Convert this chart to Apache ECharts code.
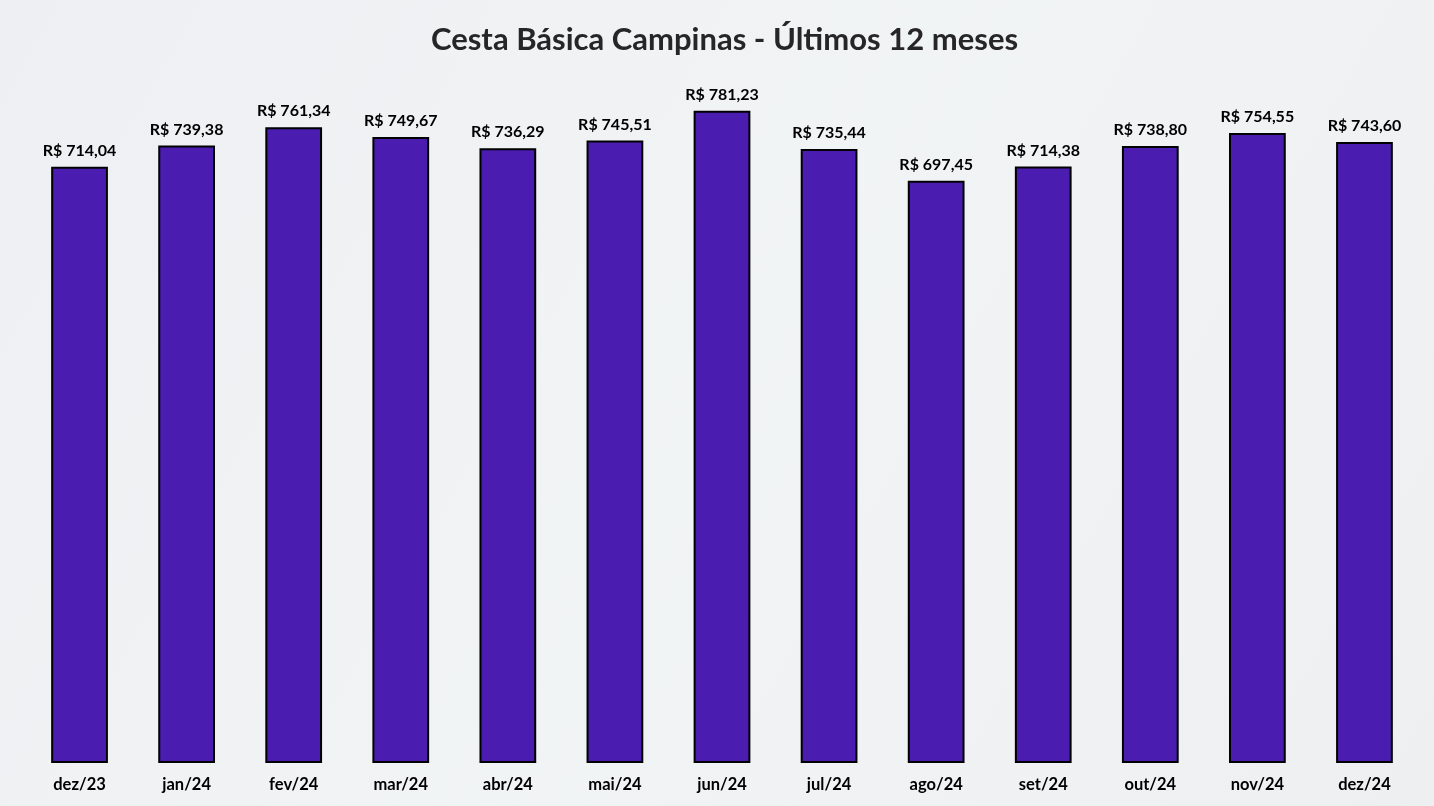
<!DOCTYPE html>
<html>
<head>
<meta charset="utf-8">
<script src="https://cdn.jsdelivr.net/npm/echarts@6/dist/echarts.min.js"></script>
<style>
html,body{margin:0;padding:0;background:#eff1f3;}
#c{width:1434px;height:806px;}
</style>
</head>
<body>
<div id="c"></div>
<script>
const categories = ['dez/23','jan/24','fev/24','mar/24','abr/24','mai/24','jun/24','jul/24','ago/24','set/24','out/24','nov/24','dez/24'];
const values = [714.04, 739.38, 761.34, 749.67, 736.29, 745.51, 781.23, 735.44, 697.45, 714.38, 738.80, 754.55, 743.60];
const titleText = 'Cesta Básica Campinas - Últimos 12 meses';

const chart = echarts.init(document.getElementById('c'));
chart.setOption({
  backgroundColor: new echarts.graphic.LinearGradient(0, 0, 1, 1, [
    {offset: 0, color: '#eeeff2'},
    {offset: 0.5, color: '#f1f4f5'},
    {offset: 1, color: '#eeeff1'}
  ]),
  animation: false,
  title: {
    text: titleText,
    left: 426,
    top: 19,
    textStyle: {fontFamily: 'Lato', fontWeight: 'bold', fontSize: 31, color: '#262626'}
  },
  grid: {left: 26, right: 16, top: 95, bottom: 43},
  xAxis: {
    type: 'category',
    data: categories,
    axisLine: {show: false},
    axisTick: {show: false},
    axisLabel: {fontFamily: 'Lato', fontWeight: 'bold', fontSize: 16.5, color: '#000', margin: 13}
  },
  yAxis: {
    type: 'value',
    min: 0, max: 800,
    show: false,
    splitLine: {show: false}
  },
  series: [{
    type: 'bar',
    data: values,
    barWidth: '53%',
    itemStyle: {color: '#4a1db0', borderColor: '#000', borderWidth: 2},
    label: {
      show: true,
      position: 'top',
      distance: 8,
      fontFamily: 'Lato', fontWeight: 'bold', fontSize: 16, color: '#000',
      formatter: p => 'R$ ' + p.value.toFixed(2).replace('.', ',')
    }
  }]
});
</script>
</body>
</html>
